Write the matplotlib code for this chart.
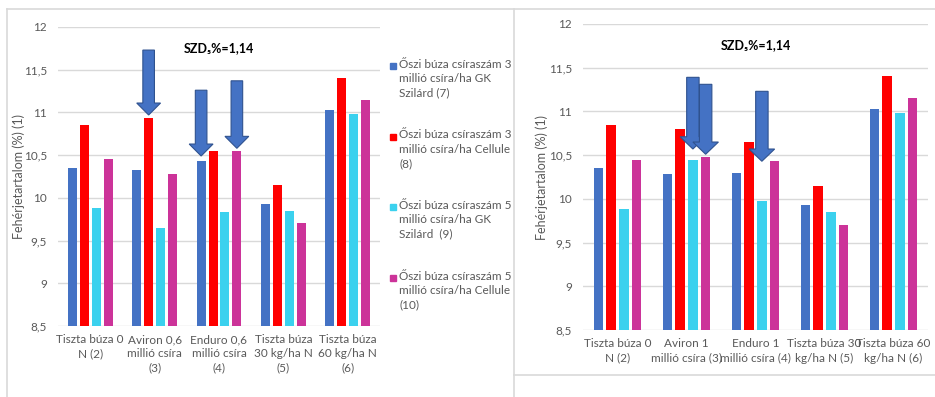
#!/usr/bin/env python3
"""
Fehérjetartalom oszlopdiagram (két panel)
"""

import numpy as np
import matplotlib.pyplot as plt
from matplotlib.patches import FancyArrow, Rectangle
from matplotlib.lines import Line2D

plt.rcParams['font.family'] = ['Lato', 'DejaVu Sans']

# --- adatok ---
labels_left = ["Tiszta búza 0\nN (2)", "Aviron 0,6\nmillió csíra\n(3)",
               "Enduro 0,6\nmillió csíra\n(4)", "Tiszta búza\n30 kg/ha N\n(5)",
               "Tiszta búza\n60 kg/ha N\n(6)"]
labels_right = ["Tiszta búza 0\nN (2)", "Aviron 1\nmillió csíra (3)",
                "Enduro 1\nmillió csíra (4)", "Tiszta búza 30\nkg/ha N (5)",
                "Tiszta búza 60\nkg/ha N (6)"]

series_names = ["Őszi búza csíraszám 3\nmillió csíra/ha GK\nSzilárd (7)",
                "Őszi búza csíraszám 3\nmillió csíra/ha Cellule\n(8)",
                "Őszi búza csíraszám 5\nmillió csíra/ha GK\nSzilárd  (9)",
                "Őszi búza csíraszám 5\nmillió csíra/ha Cellule\n(10)"]

left_gk3 = [10.35, 10.33, 10.43, 9.93, 11.03]
left_cel3 = [10.85, 10.93, 10.55, 10.15, 11.40]
left_gk5 = [9.88, 9.65, 9.84, 9.85, 10.98]
left_cel5 = [10.45, 10.28, 10.55, 9.70, 11.15]

right_gk3 = [10.35, 10.28, 10.30, 9.93, 11.03]
right_cel3 = [10.85, 10.80, 10.65, 10.15, 11.40]
right_gk5 = [9.88, 10.45, 9.98, 9.85, 10.98]
right_cel5 = [10.45, 10.48, 10.43, 9.70, 11.15]

# nyilak: (csoport, sorozat, csúcs értéke, teteje)
arrows_left = [(1, 1, 10.97, 11.73), (2, 0, 10.49, 11.26), (2, 3, 10.58, 11.37)]
arrows_right = [(1, 2, 10.57, 11.39), (1, 3, 10.51, 11.31), (2, 2, 10.43, 11.23)]

colors = ['#4472C4', '#FF0000', '#3BD1EE', '#CC3399']
grey = '#595959'
grid_c = '#D9D9D9'
step = 0.185
bar_w = 0.14


def tick_fmt(v):
    s = f"{v:g}"
    return s.replace('.', ',')


def draw_panel(ax, labels, series, arrows):
    x = np.arange(len(labels))
    for i, (vals, c) in enumerate(zip(series, colors)):
        off = (i - 1.5) * step
        ax.bar(x + off, np.array(vals) - 8.5, bar_w, bottom=8.5, color=c, zorder=2)
    ax.set_ylim(8.5, 12)
    ax.set_xlim(-0.5, len(labels) - 0.5)
    yt = np.arange(8.5, 12.01, 0.5)
    ax.set_yticks(yt)
    ax.set_yticklabels([tick_fmt(v) for v in yt])
    ax.set_xticks(x)
    ax.set_xticklabels(labels, linespacing=1.35)
    ax.tick_params(length=0, colors=grey, labelsize=8.5)
    ax.tick_params(axis='y', pad=8)
    ax.tick_params(axis='x', pad=6)
    ax.grid(axis='y', color=grid_c, lw=1, zorder=0)
    for s in ax.spines.values():
        s.set_visible(False)
    ax.set_ylabel("Fehérjetartalom (%) (1)", color=grey, fontsize=9)
    ax.text(0.5, 0.93, "SZD₅%=1,14", transform=ax.transAxes, ha='center',
            va='center', fontsize=9, fontweight='bold', color='black',
            family=['Lato', 'DejaVu Sans'])
    for g, s, tip, top in arrows:
        xc = g + (s - 1.5) * step
        head = 0.14
        ax.add_patch(FancyArrow(xc, top, 0, -(top - tip), width=0.18,
                                head_width=0.37, head_length=head,
                                length_includes_head=True,
                                facecolor='#4472C4', edgecolor='#2F528F',
                                lw=0.8, zorder=5))


fig = plt.figure(figsize=(9.35, 3.97), dpi=100)
W, H = 935, 397

ax1 = fig.add_axes([58 / W, 1 - 326 / H, 322 / W, 299 / H])
draw_panel(ax1, labels_left, [left_gk3, left_cel3, left_gk5, left_cel5], arrows_left)
ax1.yaxis.set_label_coords(-0.102, 0.5)

ax2 = fig.add_axes([583 / W, 1 - 330 / H, 345 / W, 306 / H])
draw_panel(ax2, labels_right, [right_gk3, right_cel3, right_gk5, right_cel5], arrows_right)
ax2.yaxis.set_label_coords(-0.1, 0.5)

# jelmagyarázat
for i, (name, c) in enumerate(zip(series_names, colors)):
    y0 = 66 + i * 70.5
    fig.patches.append(Rectangle((390 / W, 1 - (y0 + 3) / H), 6 / W, 6 / H,
                                 transform=fig.transFigure, color=c))
    fig.text(399 / W, 1 - (y0 - 7) / H, name, ha='left', va='top',
             fontsize=8.5, color=grey, linespacing=1.35)

# keretek
lines = [((7, 935), (9, 9)), ((7, 7), (9, 397)), ((514, 514), (9, 397)),
         ((514, 935), (375, 375))]
for xs, ys in lines:
    fig.add_artist(Line2D([v / W for v in xs], [1 - v / H for v in ys],
                          color=grid_c, lw=1.2, transform=fig.transFigure))

fig.savefig("out.png", dpi=100, facecolor='white')
